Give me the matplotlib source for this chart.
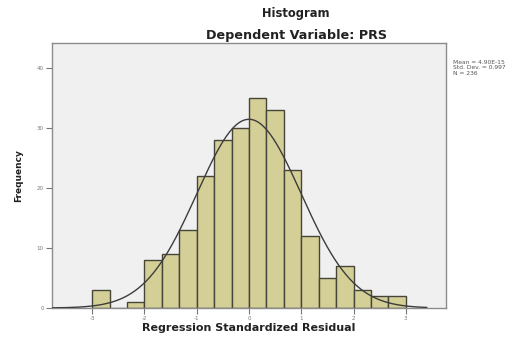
import numpy as np
import matplotlib
matplotlib.use("Agg")
import matplotlib.pyplot as plt

# Data
bin_edges = [-3 + i / 3 for i in range(19)]
counts = [3, 0, 1, 8, 9, 13, 22, 28, 30, 35, 33, 23, 12, 5, 7, 3, 2, 2]
x_ticks = [-3, -2, -1, 0, 1, 2, 3]
y_ticks = [0, 10, 20, 30, 40]
mean_val = 4.90e-15
std_val = 0.997
n_val = 236

fig = plt.figure(figsize=(5.32, 3.41), dpi=100)
fig.patch.set_facecolor("white")
ax = fig.add_axes([52 / 532, 1 - 308 / 341, (446 - 52) / 532, (308 - 43) / 341])
ax.set_facecolor("#F0F0F0")

widths = np.diff(bin_edges)
ax.bar(bin_edges[:-1], counts, width=widths, align="edge",
       color="#D4CF96", edgecolor="#45453A", linewidth=1.0, zorder=2)

bw = widths[0]
xs = np.linspace(-3.77, 3.4, 400)
ys = n_val * bw / (std_val * np.sqrt(2 * np.pi)) * np.exp(-0.5 * ((xs - mean_val) / std_val) ** 2)
ax.plot(xs, ys, color="#3C3C3C", linewidth=1.0, zorder=3)

ax.set_xlim(-3.77, 3.77)
ax.set_ylim(0, 44.2)
ax.set_xticks(x_ticks)
ax.set_xticklabels([str(t) for t in x_ticks])
ax.set_yticks(y_ticks)
ax.set_yticklabels([str(t) for t in y_ticks])
ax.tick_params(axis="both", labelsize=4, colors="#777777", length=4, width=0.8, pad=2)

for s in ax.spines.values():
    s.set_color("#8C8C8C")
    s.set_linewidth(1.0)

ax.set_xlabel("Regression Standardized Residual", fontsize=8, fontweight="bold",
              color="#222222", labelpad=1)
ax.set_ylabel("Frequency", fontsize=6.5, fontweight="bold", color="#222222", labelpad=10)

fig.text(296 / 532, 1 - 14 / 341, "Histogram", ha="center", va="center",
         fontsize=8.3, fontweight="bold", color="#222222")
fig.text(296 / 532, 1 - 36 / 341, "Dependent Variable: PRS", ha="center", va="center",
         fontsize=9.2, fontweight="bold", color="#222222")

stats = f"Mean = {mean_val:.2E}\nStd. Dev. = {std_val:.3f}\nN = {n_val}"
fig.text(453 / 532, 1 - 60 / 341, stats, ha="left", va="top", fontsize=4.3,
         color="#555555", linespacing=1.1)

fig.savefig("out.png", dpi=100)
